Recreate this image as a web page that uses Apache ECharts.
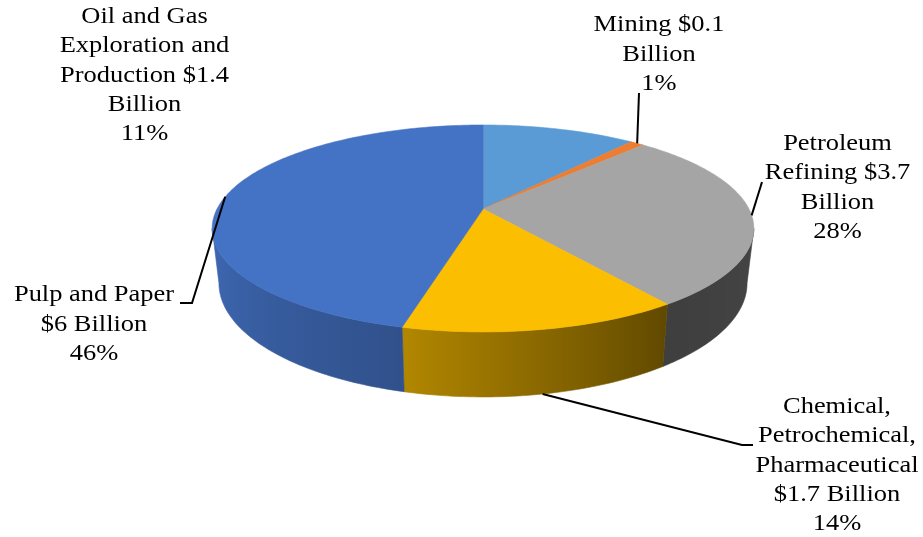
<!DOCTYPE html>
<html><head><meta charset="utf-8">
<script src="https://cdn.jsdelivr.net/npm/echarts@6/dist/echarts.min.js"></script>
<style>html,body{margin:0;padding:0;background:#fff}#c{width:923px;height:537px}</style>
</head><body><div id="c"></div>
<script>
// ---- data ----
const categories = ['Oil and Gas Exploration and Production', 'Mining', 'Petroleum Refining', 'Chemical, Petrochemical, Pharmaceutical', 'Pulp and Paper'];
const billions = [1.4, 0.1, 3.7, 1.7, 6];
const percents = [11, 1, 28, 14, 46];
const labelWrap = [
  'Oil and Gas\nExploration and\nProduction {v}\nBillion',
  'Mining {v}\nBillion',
  'Petroleum\nRefining {v}\nBillion',
  'Chemical,\nPetrochemical,\nPharmaceutical\n{v} Billion',
  'Pulp and Paper\n{v} Billion'
];

// ---- styles / layout ----
const colors = ['#5B9BD5', '#ED7D31', '#A5A5A5', '#FBBE00', '#4472C4'];
const labelLayout = [
  { x: 144.5, y: 75.5, leader: null, anchor: null },
  { x: 659, y: 54.5, leader: [[639, 93]], anchor: 'top' },
  { x: 837.5, y: 188, leader: [[762, 182]], anchor: 'top' },
  { x: 837, y: 465.5, leader: [[753, 445], [742, 445]], anchor: 'base' },
  { x: 94, y: 324.5, leader: [[180, 303], [192, 303]], anchor: 'top' }
];
const G = { cx: 483, cy: 209, A: 266, B: 99.8, k: 0.188, D: 52.8, s: 0.975 };
const shadeAnchors = [[100.8, 0.42], [144, 0.38], [194.4, 0.71], [259.2, 0.93]];

const total = percents.reduce((a, b) => a + b, 0);
const cum = [0];
percents.forEach((p, i) => cum.push(cum[i] + p / total * 360));

function topPt(deg) {
  const t = deg * Math.PI / 180, u = Math.sin(t), v = Math.cos(t), w = 1 + G.k * v;
  return [G.cx + G.A * u / w, G.cy - G.B * v / w];
}
function basePt(deg) {
  const t = deg * Math.PI / 180, v = Math.cos(t), w = 1 + G.k * v;
  const p = topPt(deg);
  return [G.cx + (p[0] - G.cx) * G.s, p[1] + G.D / w];
}
function shade(deg) {
  const a = shadeAnchors;
  if (deg <= a[0][0]) return a[0][1];
  for (let i = 1; i < a.length; i++) {
    if (deg <= a[i][0]) {
      const f = (deg - a[i - 1][0]) / (a[i][0] - a[i - 1][0]);
      return a[i - 1][1] + f * (a[i][1] - a[i - 1][1]);
    }
  }
  return a[a.length - 1][1];
}
function darken(hex, f) {
  const n = parseInt(hex.slice(1), 16);
  const r = Math.round(((n >> 16) & 255) * f), g = Math.round(((n >> 8) & 255) * f), b = Math.round((n & 255) * f);
  return 'rgb(' + r + ',' + g + ',' + b + ')';
}
const th1 = Math.acos(-G.k) * 180 / Math.PI, th2 = 360 - th1;

function renderItem(params, api) {
  const i = params.dataIndex;
  const a0 = cum[i], a1 = cum[i + 1];
  const col = colors[i];
  const children = [];
  // top face
  const pts = [[G.cx, G.cy]];
  const n = Math.max(2, Math.ceil((a1 - a0) / 1));
  for (let j = 0; j <= n; j++) pts.push(topPt(a0 + (a1 - a0) * j / n));
  children.push({ type: 'polygon', z2: 5, shape: { points: pts }, style: { fill: col, stroke: col, lineWidth: 0.6 } });
  // front wall
  const a = Math.max(a0, th1), b = Math.min(a1, th2);
  if (a < b) {
    const m = Math.max(2, Math.ceil(b - a));
    const tp = [], bp = [], angs = [];
    for (let j = 0; j <= m; j++) { const d = a + (b - a) * j / m; angs.push(d); tp.push(topPt(d)); bp.push(basePt(d)); }
    const poly = tp.concat(bp.slice().reverse());
    const xs = poly.map(p => p[0]);
    const xmin = Math.min.apply(null, xs), xmax = Math.max.apply(null, xs);
    const stops = angs.map((d, j) => ({ offset: Math.min(1, Math.max(0, (tp[j][0] - xmin) / (xmax - xmin))), color: darken(col, shade(d)) }));
    stops.sort((p, q) => p.offset - q.offset);
    const grad = new echarts.graphic.LinearGradient(0, 0, 1, 0, stops);
    children.push({ type: 'polygon', z2: 1, shape: { points: poly }, style: { fill: grad, stroke: grad, lineWidth: 0.6 } });
  }
  // label
  const L = labelLayout[i];
  const txt = labelWrap[i].replace('{v}', '$' + api.value(1)) + '\n' + api.value(0) + '%';
  children.push({
    type: 'text', z2: 10, x: L.x, y: L.y, scaleX: 1.15,
    style: { text: txt, font: '23px "Liberation Serif", "Times New Roman", serif', fill: '#000',
      align: 'center', verticalAlign: 'middle', textAlign: 'center', textVerticalAlign: 'middle', lineHeight: 29.3 }
  });
  if (L.leader) {
    const mid = (a0 + a1) / 2;
    const anc = L.anchor === 'base' ? basePt(mid) : topPt(mid);
    children.push({ type: 'polyline', z2: 8, shape: { points: L.leader.concat([anc]) }, style: { stroke: '#000', lineWidth: 2, fill: null } });
  }
  return { type: 'group', children: children };
}

const chart = echarts.init(document.getElementById('c'), null, { renderer: 'canvas' });
chart.setOption({
  backgroundColor: '#fff',
  animation: false,
  series: [{
    type: 'custom',
    coordinateSystem: 'none',
    silent: true,
    renderItem: renderItem,
    data: percents.map((p, i) => ({ name: categories[i], value: [p, billions[i]] }))
  }]
});
</script></body></html>
